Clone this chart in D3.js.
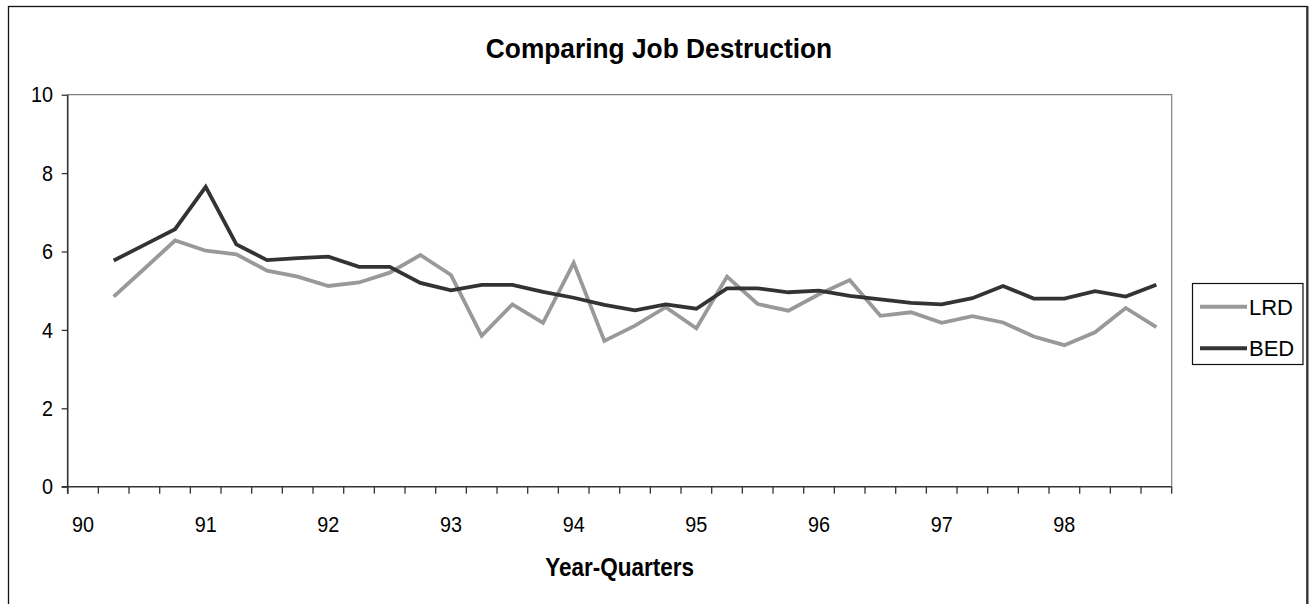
<!DOCTYPE html>
<html>
<head>
<meta charset="utf-8">
<script src="https://cdn.jsdelivr.net/npm/d3@7/dist/d3.min.js"></script>
<style>
  html, body { margin: 0; padding: 0; background: #fff; }
  svg { display: block; font-family: "Liberation Sans", Arial, sans-serif; }
</style>
</head>
<body>
<svg id="chart" width="1309" height="604"></svg>
<script>
// Quarterly job destruction rates, 1990Q1 – 1998Q4
const years = ["90", "91", "92", "93", "94", "95", "96", "97", "98"];
const quarters = ["Q1", "Q2", "Q3", "Q4"];
const categories = years.flatMap(y => quarters.map(q => y + q));

// LRD series (no observation for 90Q1)
const lrd = [null,
  4.85, 5.56, 6.28,
  6.02, 5.93, 5.51, 5.36,
  5.12, 5.21, 5.46, 5.91,
  5.40, 3.85, 4.65, 4.18,
  5.71, 3.72, 4.11, 4.58,
  4.04, 5.36, 4.66, 4.49,
  4.91, 5.27, 4.36, 4.45,
  4.18, 4.35, 4.19, 3.83,
  3.61, 3.94, 4.56, 4.07];

// BED series (no observation for 90Q1)
const bed = [null,
  5.77, 6.17, 6.57,
  7.65, 6.18, 5.78, 5.83,
  5.87, 5.61, 5.61, 5.20,
  5.01, 5.15, 5.15, 4.97,
  4.82, 4.64, 4.50, 4.65,
  4.54, 5.06, 5.06, 4.96,
  5.00, 4.87, 4.78, 4.69,
  4.65, 4.81, 5.12, 4.80,
  4.80, 4.99, 4.85, 5.15];

const yTicks = [0, 2, 4, 6, 8, 10];
const series = [
  { name: "LRD", values: lrd, color: "#999999" },
  { name: "BED", values: bed, color: "#333333" }
];

const svg = d3.select("#chart");
const plot = { left: 67.7, right: 1171.7, top: 94.7, bottom: 486.7 };

const x = d3.scaleBand().domain(categories).range([plot.left, plot.right]).padding(0);
const y = d3.scaleLinear().domain([0, 10]).range([plot.bottom, plot.top]);

// text with a slightly condensed horizontal scale
function label(parent, px, py, txt, opts) {
  const t = parent.append("text")
    .attr("transform", `translate(${px},${py}) scale(${opts.sx || 1},1)`)
    .attr("text-anchor", opts.anchor || "middle")
    .attr("font-size", opts.size)
    .attr("font-weight", opts.weight || "normal")
    .attr("fill", "#000")
    .text(txt);
  if (opts.dy) t.attr("dy", opts.dy);
  return t;
}

// chart frame
svg.append("rect")
  .attr("x", 8.5).attr("y", 6.5)
  .attr("width", 1298.5).attr("height", 610)
  .attr("fill", "#fff").attr("stroke", "#111").attr("stroke-width", 1.3);
svg.append("line")
  .attr("x1", 1307.5).attr("x2", 1307.5).attr("y1", 6).attr("y2", 604)
  .attr("stroke", "#333").attr("stroke-width", 2);

// title
label(svg, 659, 58, "Comparing Job Destruction", { size: 28, weight: "bold", sx: 0.94 });

// plot area border (top and right)
svg.append("path")
  .attr("d", `M${plot.left},${plot.top}H${plot.right}V${plot.bottom}`)
  .attr("fill", "none").attr("stroke", "#808080").attr("stroke-width", 1.2);

// y axis
const yAxis = svg.append("g")
  .attr("transform", `translate(${plot.left},0)`)
  .call(d3.axisLeft(y).tickValues(yTicks).tickSize(6).tickFormat(""));
yAxis.select(".domain").remove();
yAxis.selectAll(".tick line").attr("stroke", "#333").attr("stroke-width", 1.3);
yTicks.forEach(v => label(svg, 53, y(v), String(v), { size: 22, sx: 0.9, anchor: "end", dy: "0.35em" }));
svg.append("line")
  .attr("x1", plot.left).attr("x2", plot.left)
  .attr("y1", plot.top).attr("y2", plot.bottom + 7)
  .attr("stroke", "#333").attr("stroke-width", 1.6);

// x axis: tick marks on category boundaries, year labels on Q1 centres
const xAxis = svg.append("g");
xAxis.append("line")
  .attr("x1", plot.left - 6).attr("x2", plot.right)
  .attr("y1", plot.bottom).attr("y2", plot.bottom)
  .attr("stroke", "#333").attr("stroke-width", 1.6);
const boundaries = categories.map(c => x(c)).concat([x.range()[1]]);
xAxis.selectAll("line.tick")
  .data(boundaries)
  .join("line")
  .attr("class", "tick")
  .attr("x1", d => d).attr("x2", d => d)
  .attr("y1", plot.bottom).attr("y2", plot.bottom + 7)
  .attr("stroke", "#333").attr("stroke-width", 1.3);
years.forEach(yr => label(xAxis, x(yr + "Q1") + x.bandwidth() / 2, 531.5, yr, { size: 22, sx: 0.9 }));

// x axis title
label(svg, (plot.left + plot.right) / 2, 576, "Year-Quarters", { size: 25, weight: "bold", sx: 0.9 });

// series lines
const line = d3.line()
  .defined(d => d.v != null)
  .x(d => x(d.c) + x.bandwidth() / 2)
  .y(d => y(d.v));

svg.selectAll("path.series")
  .data(series)
  .join("path")
  .attr("class", "series")
  .attr("fill", "none")
  .attr("stroke", d => d.color)
  .attr("stroke-width", 3.8)
  .attr("stroke-linejoin", "miter")
  .attr("d", d => line(categories.map((c, i) => ({ c, v: d.values[i] }))));

// legend
const legend = svg.append("g");
legend.append("rect")
  .attr("x", 1192.5).attr("y", 283.5)
  .attr("width", 110.5).attr("height", 81)
  .attr("fill", "#fff").attr("stroke", "#111").attr("stroke-width", 1.2);
const items = legend.selectAll("g.item")
  .data(series)
  .join("g")
  .attr("class", "item")
  .attr("transform", (d, i) => `translate(0,${306.7 + i * 41.6})`);
items.append("line")
  .attr("x1", 1200).attr("x2", 1247)
  .attr("stroke", d => d.color).attr("stroke-width", 4);
items.append("text")
  .attr("x", 1249).attr("y", 8)
  .attr("font-size", 22).attr("fill", "#000")
  .text(d => d.name);
</script>
</body>
</html>
